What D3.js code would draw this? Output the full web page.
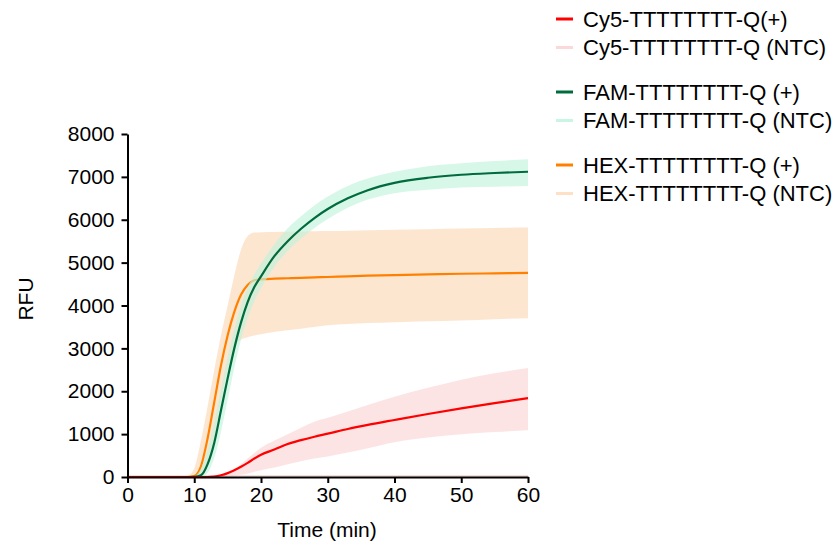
<!DOCTYPE html>
<html>
  <head>
    <meta charset="utf-8">
    <script src="https://cdn.jsdelivr.net/npm/d3@7"></script>
    <style>
      body { margin: 0; background: #fff; }
      text { font-family: "Liberation Sans", Arial, sans-serif; }
    </style>
  </head>
  <body>
    <svg width="838" height="548" id="mainsvg"></svg>
    <script>
      // time points (min)
      const times = [0,2,4,6,8,9,10,11,12,13,14,15,16,17,18,19,20,22,24,26,28,30,33,36,40,45,50,55,60];

      // Cy5 (+)
      const cy5Mean = [0,0,0,0,0,0,0,0,0,10,40,90,160,240,330,430,520,640,770,860,940,1010,1120,1215,1330,1470,1600,1725,1840];
      const cy5Lo   = [0,0,0,0,0,0,0,0,0,0,0,10,30,50,80,120,160,220,300,370,430,480,570,670,810,920,1000,1050,1090];
      const cy5Hi   = [0,0,0,0,0,0,0,0,0,0,20,80,180,300,430,560,680,850,1000,1150,1290,1380,1530,1680,1870,2080,2270,2420,2540];
      // FAM (+)
      const famMean = [0,0,0,0,0,0,5,40,300,800,1550,2300,3000,3600,4080,4430,4680,5150,5500,5790,6040,6250,6500,6690,6860,6980,7050,7090,7120];
      const famLo   = [0,0,0,0,0,0,0,0,100,450,1050,1800,2550,3200,3700,4100,4400,4900,5270,5560,5810,6020,6280,6470,6620,6700,6750,6770,6790];
      const famHi   = [0,0,0,0,0,0,20,200,650,1300,2050,2800,3450,4000,4420,4730,4980,5430,5800,6080,6330,6540,6790,6960,7120,7250,7320,7370,7410];
      // HEX (+)
      const hexMean = [0,0,0,0,0,0,20,250,900,1750,2600,3300,3850,4250,4480,4590,4610,4625,4635,4645,4655,4665,4680,4695,4710,4725,4740,4750,4760];
      const hexLo   = [0,0,0,0,0,0,0,20,250,900,1750,2500,3000,3200,3260,3300,3330,3380,3420,3460,3500,3540,3570,3590,3610,3630,3650,3680,3700];
      const hexHi   = [0,0,0,0,0,20,200,850,1650,2500,3300,4000,4700,5300,5620,5700,5710,5715,5720,5725,5730,5735,5745,5755,5765,5780,5795,5810,5820];
      // NTC controls (flat near zero)
      const cy5NtcMean = [10,10,10,10,10,10,10,10,10,10,10,10,10,10,10,10,10,10,10,10,10,10,10,10,10,10,10,10,10];
      const famNtcMean = [20,10,5,5,5,5,5,5,5,5,5,5,5,5,5,5,5,5,5,5,5,5,5,5,5,5,5,5,5];
      const hexNtcMean = [5,5,5,5,5,5,5,5,5,5,5,5,5,5,5,5,5,5,5,5,5,5,5,5,5,5,5,5,5];

      const legendLabels = ['Cy5-TTTTTTTT-Q(+)','Cy5-TTTTTTTT-Q (NTC)','FAM-TTTTTTTT-Q (+)','FAM-TTTTTTTT-Q (NTC)','HEX-TTTTTTTT-Q (+)','HEX-TTTTTTTT-Q (NTC)'];
      const yTicks = [0,1000,2000,3000,4000,5000,6000,7000,8000];
      const xTicks = [0,10,20,30,40,50,60];

      const svg = d3.select('#mainsvg');
      const x = d3.scaleLinear().domain([0, 60]).range([127.5, 528]);
      const y = d3.scaleLinear().domain([0, 8000]).range([477, 134]);

      const rows = (m, lo, hi) => times.map((t, i) => ({t: t, m: m[i], lo: lo ? lo[i] : m[i] - 30, hi: hi ? hi[i] : m[i] + 30}));
      const series = [
        {name: 'hexNtc', data: rows(hexNtcMean), line: '#fde0c6', band: '#fcd5b0', op: 0.6},
        {name: 'famNtc', data: rows(famNtcMean), line: '#c9f5e3', band: '#c2f2dc', op: 0.6},
        {name: 'cy5Ntc', data: rows(cy5NtcMean), line: '#fcd9d9', band: '#fbc4c4', op: 0.45},
        {name: 'hex', data: rows(hexMean, hexLo, hexHi), line: '#ff8000', band: '#fcd5b0', op: 0.6},
        {name: 'fam', data: rows(famMean, famLo, famHi), line: '#006b3c', band: '#c2f2dc', op: 0.65},
        {name: 'cy5', data: rows(cy5Mean, cy5Lo, cy5Hi), line: '#ff0000', band: '#fbc4c4', op: 0.45}
      ];

      const area = d3.area().x(d => x(d.t)).y0(d => y(Math.max(0, d.lo))).y1(d => y(d.hi)).curve(d3.curveMonotoneX);
      const line = d3.line().x(d => x(d.t)).y(d => y(d.m)).curve(d3.curveMonotoneX);

      const plot = svg.append('g');
      series.forEach(s => {
        plot.append('path').datum(s.data)
          .attr('d', area)
          .attr('fill', s.band)
          .attr('fill-opacity', s.op);
        plot.append('path').datum(s.data)
          .attr('d', line)
          .attr('fill', 'none')
          .attr('stroke', s.line)
          .attr('stroke-width', 2.2);
      });

      // axes
      const yAxis = svg.append('g').attr('transform', 'translate(127.5,0)')
        .call(d3.axisLeft(y).tickValues(yTicks).tickFormat(d3.format('d')).tickSize(6).tickPadding(7).tickSizeOuter(0));
      const xAxis = svg.append('g').attr('transform', 'translate(0,477)')
        .call(d3.axisBottom(x).tickValues(xTicks).tickFormat(d3.format('d')).tickSize(6).tickPadding(4).tickSizeOuter(0));
      [yAxis, xAxis].forEach(a => {
        a.select('.domain').attr('stroke', '#000').attr('stroke-width', 2);
        a.selectAll('.tick line').attr('stroke', '#000').attr('stroke-width', 2);
        a.selectAll('.tick text').attr('fill', '#000')
          .style('font-family', '"Liberation Sans", Arial, sans-serif').style('font-size', '21px');
      });

      svg.append('text').attr('x', 327).attr('y', 537).attr('text-anchor', 'middle')
        .style('font-size', '21px').text('Time (min)');
      svg.append('text').attr('transform', 'translate(33,299) rotate(-90)').attr('text-anchor', 'middle')
        .style('font-size', '21px').text('RFU');

      // legend
      const legendColors = ['#ff0000', '#fcd9d9', '#006b3c', '#c9f5e3', '#ff8000', '#fde0c6'];
      const legend = svg.append('g');
      legendLabels.forEach((lab, i) => {
        const ly = 19 + i * 28.5 + Math.floor(i / 2) * 16;
        legend.append('line').attr('x1', 556).attr('x2', 573).attr('y1', ly).attr('y2', ly)
          .attr('stroke', legendColors[i]).attr('stroke-width', 3);
        legend.append('text').attr('x', 583).attr('y', ly).attr('dy', '0.35em')
          .style('font-size', '22px').text(lab);
      });
    </script>
  </body>
</html>
